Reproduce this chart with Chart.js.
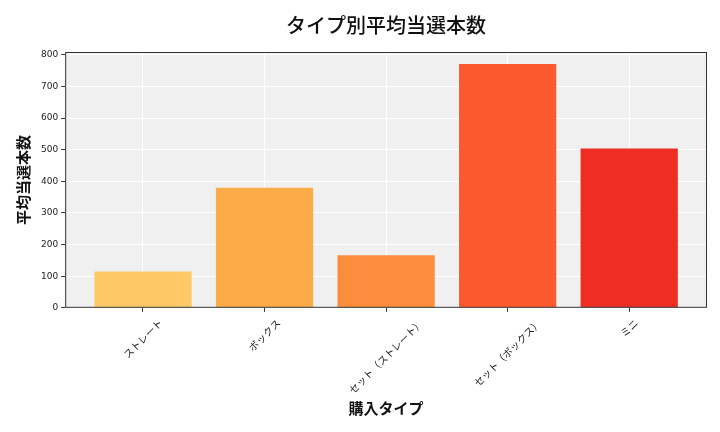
<!DOCTYPE html>
<html>
<head>
<meta charset="utf-8">
<script src="https://cdn.jsdelivr.net/npm/chart.js@4"></script>
<style>
  html, body { margin: 0; padding: 0; background: #fff; }
  #wrap { width: 720px; height: 432px; }
</style>
</head>
<body>
<div id="wrap"><canvas id="typeChart"></canvas></div>
<script>
// data
const categories = ['ストレート', 'ボックス', 'セット（ストレート）', 'セット（ボックス）', 'ミニ'];
const avgWins = [115, 380, 166, 771, 504];
const barColors = ['#FEC966', '#FDAA48', '#FD8D3C', '#FC5A2E', '#EE2E22'];
const yTicks = [0, 100, 200, 300, 400, 500, 600, 700, 800];

const points = avgWins.map((v, i) => ({ x: i, y: v }));
const labelFont = { family: 'Noto Sans CJK JP', size: 10 };

// plot background + frame
const panel = {
    id: 'panel',
    beforeDraw(chart) {
        const { ctx, chartArea: a } = chart;
        ctx.save();
        ctx.fillStyle = '#F0F0F0';
        ctx.fillRect(a.left, a.top, a.right - a.left, a.bottom - a.top);
        ctx.restore();
    },
    afterDraw(chart) {
        const { ctx, chartArea: a } = chart;
        ctx.save();
        ctx.strokeStyle = '#333333';
        ctx.lineWidth = 1;
        ctx.strokeRect(a.left + 0.5, a.top + 0.5, a.right - a.left - 1, a.bottom - a.top - 1);
        ctx.restore();
    }
};

// rotated x labels centred under their tick (Chart.js right-aligns rotated labels)
const centredLabels = {
    id: 'centredLabels',
    afterDraw(chart) {
        const xs = chart.scales.x;
        const { ctx } = chart;
        ctx.save();
        ctx.font = `${labelFont.size}px "${labelFont.family}"`;
        ctx.fillStyle = '#222';
        ctx.textAlign = 'center';
        ctx.textBaseline = 'middle';
        categories.forEach((c, i) => {
            const x = xs.getPixelForValue(i);
            const w = ctx.measureText(c).width;
            const h = labelFont.size * 1.2;
            const boxH = (w + h) * Math.SQRT1_2;
            const y = xs.top + 9 + boxH / 2;
            ctx.save();
            ctx.translate(x, y);
            ctx.rotate(-Math.PI / 4);
            ctx.fillText(c, 0, 0);
            ctx.restore();
        });
        ctx.restore();
    }
};

const ctx = document.getElementById('typeChart').getContext('2d');
new Chart(ctx, {
    type: 'bar',
    data: {
        datasets: [{ data: points, backgroundColor: barColors, borderWidth: 0,
                     barPercentage: 0.8, categoryPercentage: 1 }]
    },
    options: {
        responsive: true,
        maintainAspectRatio: false,
        animation: false,
        layout: { padding: { left: 10, right: 13, top: 7, bottom: 11 } },
        plugins: {
            legend: { display: false },
            tooltip: { enabled: false },
            title: {
                display: true,
                fullSize: false,
                text: 'タイプ別平均当選本数',
                color: '#111',
                font: { family: 'Noto Sans CJK JP', size: 20, weight: '500' },
                padding: { top: 6, bottom: 15 }
            }
        },
        scales: {
            x: {
                type: 'linear',
                min: -0.64,
                max: 4.64,
                offset: false,
                z: 1,
                afterBuildTicks(scale) { scale.ticks = categories.map((c, i) => ({ value: i })); },
                ticks: {
                    callback: (v) => categories[v],
                    maxRotation: 45, minRotation: 45,
                    color: 'rgba(0,0,0,0)',   // keeps the space, drawn by centredLabels
                    font: labelFont
                },
                grid: { offset: false, color: '#FFFFFF', lineWidth: 1, drawTicks: true, tickColor: '#333', tickLength: 4 },
                border: { display: false },
                title: {
                    display: true, text: '購入タイプ', color: '#111',
                    font: { family: 'Noto Sans CJK JP', size: 15, weight: 'bold' },
                    padding: { top: 2 }
                }
            },
            y: {
                min: 0,
                max: 809,
                z: 1,
                afterBuildTicks(scale) { scale.ticks = yTicks.map(v => ({ value: v })); },
                ticks: {
                    color: '#222',
                    font: { family: 'DejaVu Sans', size: 9 },
                    padding: 3
                },
                grid: { color: '#FFFFFF', lineWidth: 1, drawTicks: true, tickColor: '#333', tickLength: 4 },
                border: { display: false },
                title: {
                    display: true, text: '平均当選本数', color: '#111',
                    font: { family: 'Noto Sans CJK JP', size: 15, weight: 'bold' },
                    padding: { bottom: 6 }
                }
            }
        }
    },
    plugins: [panel, centredLabels]
});
</script>
</body>
</html>
